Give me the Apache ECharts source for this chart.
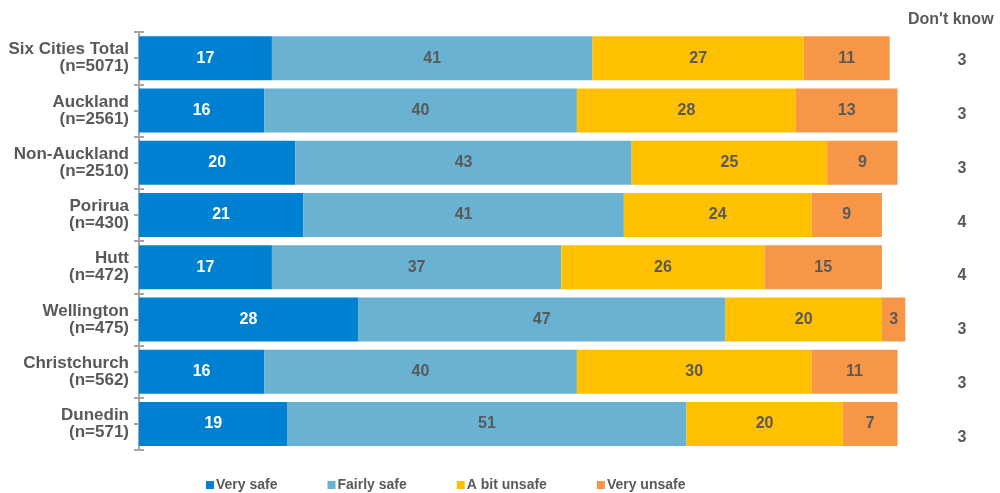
<!DOCTYPE html>
<html>
<head>
<meta charset="utf-8">
<script src="https://cdn.jsdelivr.net/npm/echarts@6/dist/echarts.min.js"></script>
<style>html,body{margin:0;padding:0;background:#fff;}#c{width:1000px;height:493px;}</style>
</head>
<body>
<div id="c"></div>
<script>
const categories = [
  "Six Cities Total\n(n=5071)",
  "Auckland\n(n=2561)",
  "Non-Auckland\n(n=2510)",
  "Porirua\n(n=430)",
  "Hutt\n(n=472)",
  "Wellington\n(n=475)",
  "Christchurch\n(n=562)",
  "Dunedin\n(n=571)"
];
const verySafe   = [17, 16, 20, 21, 17, 28, 16, 19];
const fairlySafe = [41, 40, 43, 41, 37, 47, 40, 51];
const bitUnsafe  = [27, 28, 25, 24, 26, 20, 30, 20];
const veryUnsafe = [11, 13, 9, 9, 15, 3, 11, 7];
const dontKnow   = [3, 3, 3, 4, 4, 3, 3, 3];
const seriesNames = ["Very safe", "Fairly safe", "A bit unsafe", "Very unsafe"];
const colors = ["#0080D0", "#6AB2D2", "#FFC000", "#F79646"];

const FONT = '"Liberation Sans", Arial, sans-serif';
const GREY = '#595959';

const chart = echarts.init(document.getElementById('c'), null, {renderer: 'canvas'});
const values = [verySafe, fairlySafe, bitUnsafe, veryUnsafe];

const baseY = {
  type: 'category', data: categories, inverse: true, position: 'left', gridIndex: 0
};

chart.setOption({
  animation: false,
  textStyle: {fontFamily: FONT},
  title: {
    text: "Don't know", left: 903, top: 7,
    textStyle: {fontFamily: FONT, fontSize: 16, fontWeight: 'bold', color: GREY}
  },
  legend: {
    data: seriesNames, left: 201, top: 473,
    icon: 'rect', itemWidth: 8, itemHeight: 8, itemGap: 50,
    textStyle: {fontFamily: FONT, fontSize: 14, fontWeight: 'bold', color: GREY, padding: [0, 0, 0, -3]}
  },
  grid: [
    {left: 139, right: 79, top: 32, bottom: 43, containLabel: false},
    {left: 900, right: 60, top: 34, bottom: 29, containLabel: false}
  ],
  xAxis: [
    {type: 'value', min: 0, max: 100, show: false, gridIndex: 0},
    {type: 'value', min: 0, max: 100, show: false, gridIndex: 1}
  ],
  yAxis: [
    Object.assign({}, baseY, {
      axisLine: {show: true, lineStyle: {color: '#A6A6A6', width: 2}},
      axisTick: {show: true, length: 5, alignWithLabel: false, lineStyle: {color: '#A6A6A6', width: 2}},
      axisLabel: {
        margin: 10, fontFamily: FONT, fontSize: 17, fontWeight: 'bold', color: GREY,
        lineHeight: 17, align: 'right'
      }
    }),
    Object.assign({}, baseY, {
      axisLine: {show: false},
      axisTick: {show: true, inside: true, length: 5, alignWithLabel: false, lineStyle: {color: '#A6A6A6', width: 2}},
      axisLabel: {show: false}
    }),
    Object.assign({}, baseY, {
      axisLine: {show: false},
      axisTick: {show: true, length: 5, alignWithLabel: true, lineStyle: {color: '#A6A6A6', width: 2}},
      axisLabel: {show: false}
    }),
    Object.assign({}, baseY, {
      gridIndex: 1,
      position: 'right',
      axisLine: {show: false},
      axisTick: {show: false},
      axisLabel: {
        margin: 22, align: 'center', fontFamily: FONT, fontSize: 16, fontWeight: 'bold', color: GREY,
        formatter: (v, i) => String(dontKnow[i])
      }
    })
  ],
  series: seriesNames.map((name, si) => ({
    name, type: 'bar', stack: 'total', yAxisIndex: 0, xAxisIndex: 0,
    barWidth: 44,
    data: values[si],
    itemStyle: {color: colors[si]},
    label: {
      show: true, position: 'inside',
      fontFamily: FONT, fontSize: 16, fontWeight: 'bold',
      color: si === 0 ? '#FFFFFF' : GREY
    },
    emphasis: {disabled: true}
  }))
});
</script>
</body>
</html>
